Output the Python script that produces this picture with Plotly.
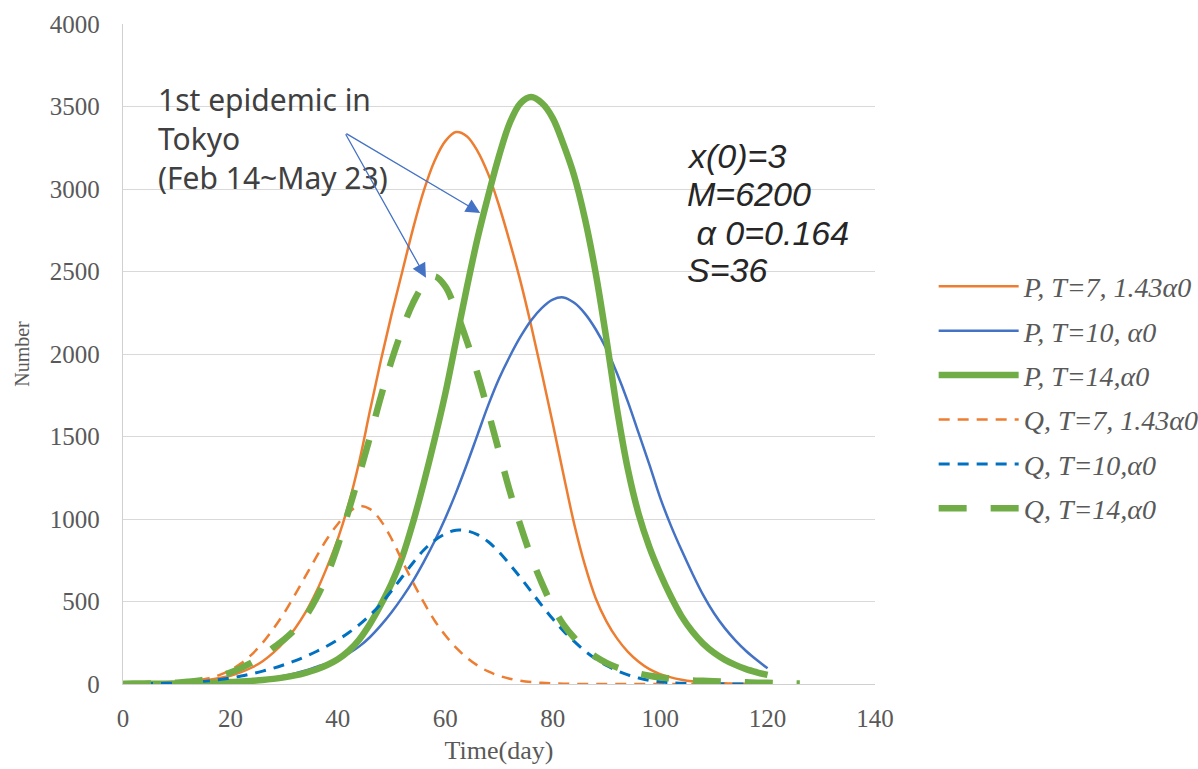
import plotly.graph_objects as go

# Day grid shared by all series (every 2 days); the last Q curve runs a bit longer
days = list(range(0, 121, 2))
days_q14 = list(range(0, 127, 2))

# ---- P, T=7, 1.43α0 (solid orange) ----
p7_val = [0, 1, 2, 3, 5, 8, 12, 18, 26, 36, 50, 72, 100, 138, 190, 255, 335, 435, 560, 710,
          880, 1090, 1350, 1660, 1960, 2240, 2500, 2760, 2990, 3170, 3290, 3345, 3320, 3230,
          3090, 2900, 2680, 2440, 2170, 1880, 1580, 1270, 970, 720, 520, 380, 275, 195, 135,
          90, 60, 40, 26, 16, 10, 6, 4, 2, 1, 0, 0]

# ---- P, T=10, α0 (solid blue) ----
p10_val = [0, 1, 1, 2, 2, 3, 4, 6, 8, 10, 13, 17, 22, 29, 38, 50, 64, 82, 104, 125, 150,
           185, 228, 285, 355, 435, 525, 625, 740, 865, 1005, 1160, 1330, 1510, 1690, 1850,
           1985, 2105, 2205, 2280, 2330, 2343, 2310, 2245, 2150, 2030, 1880, 1710, 1520, 1330,
           1130, 960, 810, 670, 540, 430, 340, 265, 200, 145, 95]

# ---- P, T=14, α0 (thick green) ----
p14_val = [0, 1, 1, 2, 2, 3, 4, 5, 7, 9, 12, 15, 19, 24, 31, 40, 52, 68, 88, 115, 150,
           200, 270, 365, 480, 610, 770, 980, 1220, 1480, 1760, 2080, 2400, 2700, 2960, 3200,
           3400, 3520, 3557, 3520, 3430, 3270, 3080, 2820, 2490, 2090, 1660, 1300, 1030, 830,
           670, 530, 410, 318, 245, 190, 148, 116, 90, 71, 55]

# ---- Q, T=7, 1.43α0 (dashed orange) ----
q7_val = [0, 1, 2, 4, 6, 10, 15, 22, 35, 55, 85, 125, 180, 250, 335, 430, 540, 655, 770, 880,
          970, 1040, 1078, 1060, 990, 880, 745, 615, 495, 385, 295, 220, 160, 112, 76, 50, 32,
          20, 12, 7, 4, 2, 1, 0, 0, 0, 0, 0, 0, 0, 0, 0, 0, 0, 0, 0, 0, 0, 0, 0, 0]

# ---- Q, T=10, α0 (dashed blue) ----
q10_val = [0, 1, 2, 3, 4, 6, 9, 13, 19, 27, 37, 48, 62, 78, 96, 117, 140, 167, 197, 230, 268,
           310, 360, 418, 485, 565, 650, 735, 812, 870, 910, 932, 928, 905, 862, 800, 725, 645,
           560, 475, 395, 322, 258, 200, 152, 112, 80, 55, 36, 22, 13, 7, 4, 2, 1, 0, 0, 0, 0,
           0, 0]

# ---- Q, T=14, α0 (thick dashed green) ----
q14_val = [0, 1, 2, 3, 5, 8, 13, 20, 32, 48, 70, 98, 130, 170, 220, 270, 330, 410, 520, 660,
           840, 1050, 1270, 1500, 1740, 1960, 2150, 2310, 2420, 2470, 2410, 2260, 2080, 1880,
           1650, 1410, 1170, 960, 770, 610, 470, 360, 280, 215, 165, 128, 100, 80, 63, 50, 40,
           33, 27, 22, 19, 16, 14, 12, 10, 8, 7, 5, 4, 3]

series_names = ["P, T=7, 1.43α0", "P, T=10, α0", "P, T=14,α0",
                "Q, T=7, 1.43α0", "Q, T=10,α0", "Q, T=14,α0"]

x_ticks = [0, 20, 40, 60, 80, 100, 120, 140]
y_ticks = [0, 500, 1000, 1500, 2000, 2500, 3000, 3500, 4000]

ORANGE = "#ED7D31"
BLUE = "#4472C4"
BLUE_D = "#0070C0"
GREEN = "#70AD47"

styles = [
    dict(color=ORANGE, width=2.5, dash="solid"),
    dict(color=BLUE, width=2.5, dash="solid"),
    dict(color=GREEN, width=6.5, dash="solid"),
    dict(color=ORANGE, width=2.5, dash="11px,8px"),
    dict(color=BLUE_D, width=3, dash="11px,8px"),
    dict(color=GREEN, width=6.5, dash="28px,24px"),
]
data = [(days, p7_val), (days, p10_val), (days, p14_val),
        (days, q7_val), (days, q10_val), (days_q14, q14_val)]

fig = go.Figure()
for i, ((xs, ys), name, st) in enumerate(zip(data, series_names, styles)):
    fig.add_trace(go.Scatter(
        x=xs, y=ys, mode="lines", name=name, legendgroup=f"g{i}",
        line=dict(color=st["color"], width=st["width"], dash=st["dash"],
                  shape="spline", smoothing=1.0),
        hoverinfo="skip",
    ))

SERIF = "Liberation Serif"
TICK_COLOR = "#595959"

fig.update_layout(
    width=1198, height=769,
    margin=dict(l=123, r=323, t=24, b=85, autoexpand=False),
    paper_bgcolor="white", plot_bgcolor="white",
    showlegend=True,
    legend=dict(
        x=1.078, y=0.64, xanchor="left", yanchor="top",
        font=dict(family=SERIF, size=28, color=TICK_COLOR, style="italic"),
        itemwidth=80, tracegroupgap=5, bgcolor="rgba(0,0,0,0)",
    ),
    xaxis=dict(
        range=[0, 140], tickvals=x_ticks, showgrid=False, zeroline=False,
        showline=True, linecolor="#d0d0d0", linewidth=1.3, ticks="",
        ticklabelstandoff=12,
        tickfont=dict(family=SERIF, size=25, color=TICK_COLOR),
        title=dict(text="Time(day)", font=dict(family=SERIF, size=26, color=TICK_COLOR),
                   standoff=9),
    ),
    yaxis=dict(
        range=[0, 4000], tickvals=y_ticks, showgrid=True, gridcolor="#d9d9d9",
        gridwidth=1.3, zeroline=False, showline=True, linecolor="#d0d0d0",
        linewidth=1.3, ticks="", ticklabelstandoff=17,
        tickfont=dict(family=SERIF, size=25, color=TICK_COLOR),
        title=dict(text="Number", font=dict(family=SERIF, size=20, color=TICK_COLOR),
                   standoff=14),
    ),
)

# Callout text and arrows pointing at the two T=14 curves
fig.add_annotation(
    x=6.2, y=3309, xref="x", yref="y", xanchor="left", yanchor="middle", align="left",
    text="1st epidemic in<br>Tokyo<br>(Feb 14~May 23)", showarrow=False,
    font=dict(family="Noto Sans", size=30, color="#404040"),
)
for tip_x, tip_y in [(66.5, 2855), (56.4, 2462)]:
    fig.add_annotation(
        x=tip_x, y=tip_y, ax=41.3, ay=3341, xref="x", yref="y", axref="x", ayref="y",
        text="", showarrow=True, arrowhead=2, arrowsize=2.2, arrowwidth=1.3,
        arrowcolor=BLUE, standoff=0, startstandoff=0,
    )

# Model parameters
param_lines = ["x(0)=3", "M=6200", " α 0=0.164", "S=36"]
param_y = [3200, 2970, 2735, 2510]
for txt, yv in zip(param_lines, param_y):
    fig.add_annotation(
        x=104.6, y=yv, xref="x", yref="y", xanchor="left", yanchor="middle",
        text=txt, showarrow=False,
        font=dict(family="Liberation Sans", size=34, color="#262626", style="italic"),
    )

fig.write_html("out.html")
